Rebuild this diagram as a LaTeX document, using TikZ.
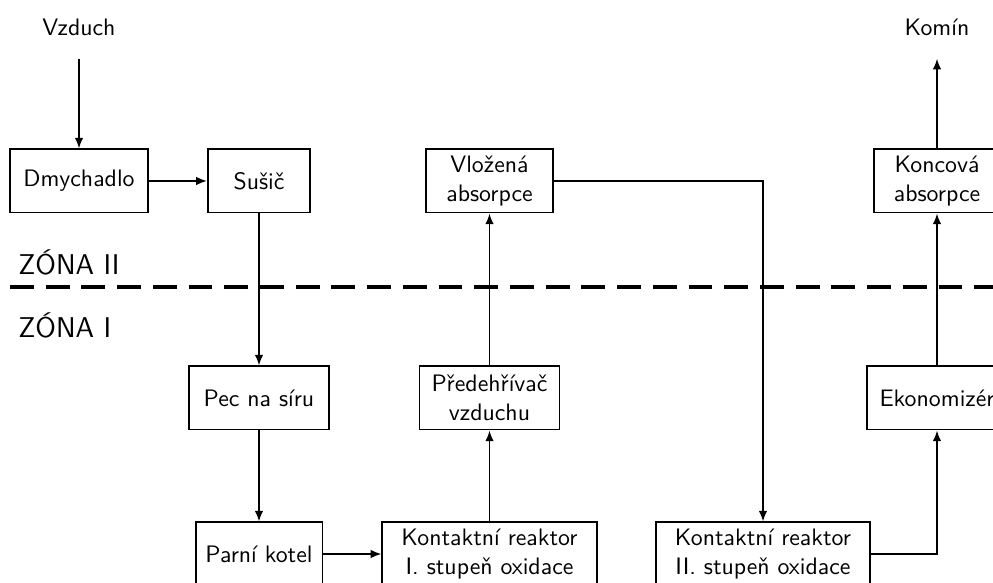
\documentclass[tikz,border=0pt]{standalone}
\usepackage{fontspec}
\usetikzlibrary{arrows.meta,positioning}

\begin{document}
\begin{tikzpicture}[
    x=0.42pt, y=-0.42pt,
    every node/.style={font=\sffamily},
    blok/.style={rectangle, draw=black, line width=0.8pt, align=center, minimum height=26.5pt, inner sep=2pt},
    popis/.style={inner xsep=2pt, inner ysep=9.6pt},
    zona/.style={anchor=west, font=\sffamily\large},
    sipka/.style={-{Latex[length=4.5pt,width=3.6pt]}, line width=0.7pt}
]
    \useasboundingbox (0,0) rectangle (993,583);
    \clip (0,0) rectangle (993,583);

    % horni rada (zona II)
    \node [popis] (vzduch) at (79,27) {Vzduch};
    \node [blok, minimum width=58pt] (dmych) at (79,181) {Dmychadlo};
    \node [blok, minimum width=43pt] (susic) at (259,181) {Sušič};
    \node [blok, minimum width=53.3pt] (vlozena) at (489.5,181) {Vložená\\absorpce};
    \node [blok, minimum width=53.3pt] (koncova) at (937,181) {Koncová\\absorpce};
    \node [popis] (komin) at (937,27) {Komín};

    % hranice zon
    \draw [line width=1.6pt, dash pattern=on 10pt off 5pt] (10,287) -- (993,287);
    \node [zona] (zona2) at (10,262) {ZÓNA II};
    \node [zona] (zona1) at (10,325) {ZÓNA I};

    % stredni a spodni rada (zona I)
    \node [blok, minimum width=58.8pt] (pec) at (259,398) {Pec na síru};
    \node [blok, minimum width=58.8pt] (predehrivac) at (489.5,398) {Předehřívač\\vzduchu};
    \node [blok, minimum width=58.8pt] (ekonom) at (937,398) {Ekonomizér};
    \node [blok, minimum width=53.3pt] (kotel) at (259,554) {Parní kotel};
    \node [blok, minimum width=90pt] (reaktor1) at (489.5,554) {Kontaktní reaktor\\I. stupeň oxidace};
    \node [blok, minimum width=90pt] (reaktor2) at (763,554) {Kontaktní reaktor\\II. stupeň oxidace};

    \draw [sipka] (vzduch) -- (dmych);
    \draw [sipka] (dmych) -- (susic);
    \draw [sipka] (susic) -- (pec);
    \draw [sipka] (pec) -- (kotel);
    \draw [sipka] (kotel) -- (reaktor1);
    \draw [sipka] (reaktor1) -- (predehrivac);
    \draw [sipka] (predehrivac) -- (vlozena);
    \draw [sipka] (vlozena.east) -| (reaktor2.north);
    \draw [sipka] (reaktor2.east) -| (ekonom.south);
    \draw [sipka] (ekonom) -- (koncova);
    \draw [sipka] (koncova) -- (komin);
\end{tikzpicture}
\end{document}
